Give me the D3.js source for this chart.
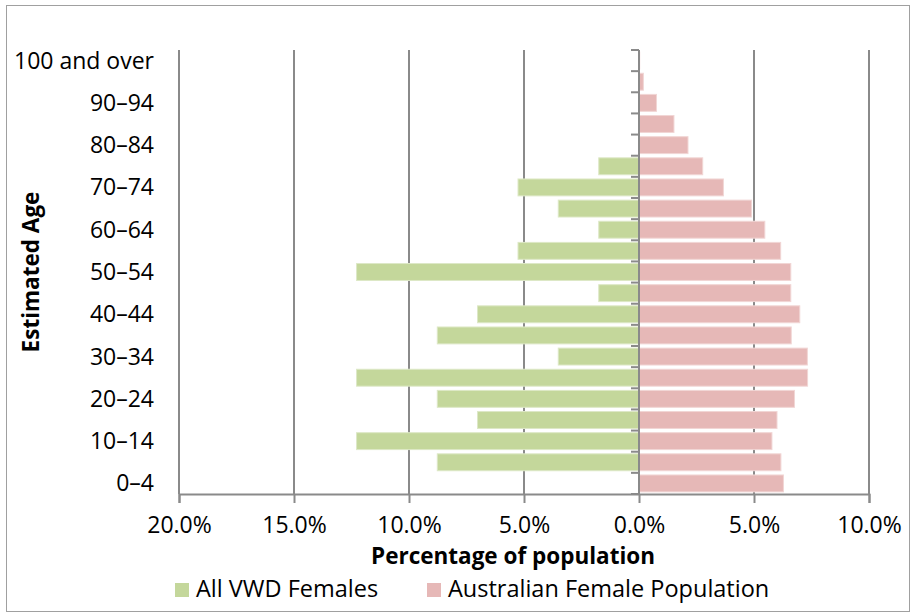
<!DOCTYPE html>
<html>
<head>
  <meta charset="utf-8">
  <script src="https://cdnjs.cloudflare.com/ajax/libs/d3/7.8.5/d3.min.js"></script>
  <style>
    body { margin: 0; padding: 0; background: #fff; }
    text { font-family: "Open Sans", sans-serif; fill: #000; }
  </style>
</head>
<body>
<svg width="915" height="614"></svg>
<script>
  // age groups, bottom to top
  var ageGroups = ["0–4", "5–9", "10–14", "15–19", "20–24", "25–29", "30–34", "35–39",
    "40–44", "45–49", "50–54", "55–59", "60–64", "65–69", "70–74", "75–79",
    "80–84", "85–89", "90–94", "95–99", "100 and over"];

  // percentage of population
  var vwdFemales = [0, 8.77, 12.28, 7.02, 8.77, 12.28, 3.51, 8.77, 7.02, 1.75, 12.28,
    5.26, 1.75, 3.51, 5.26, 1.75, 0, 0, 0, 0, 0];
  var australianFemales = [6.28, 6.17, 5.78, 6.0, 6.76, 7.33, 7.32, 6.62, 6.99, 6.6, 6.6,
    6.16, 5.47, 4.89, 3.67, 2.77, 2.13, 1.52, 0.76, 0.19, 0.03];

  var xTicks = [-20, -15, -10, -5, 0, 5, 10];
  var seriesNames = ["All VWD Females", "Australian Female Population"];
  var colors = ["#c4d79b", "#e6b8b7"];
  var strokes = ["#dde8c6", "#f1d6d5"];

  var svg = d3.select("svg");

  // outer chart border
  svg.append("rect")
    .attr("x", 6.5).attr("y", 5.5)
    .attr("width", 903).attr("height", 606)
    .attr("fill", "none")
    .attr("stroke", "#a0a0a0")
    .attr("stroke-width", 1);

  var plotLeft = 179, plotRight = 869, plotTop = 50, plotBottom = 494;

  var x = d3.scaleLinear().domain([-20, 10]).range([plotLeft, plotRight]);
  var yb = d3.scaleBand().domain(ageGroups.slice().reverse()).range([plotTop, plotBottom]);
  var y = d3.scaleBand().domain(ageGroups.slice().reverse()).range([plotTop, plotBottom])
    .paddingInner(0.2).paddingOuter(0.1);

  // vertical gridlines
  svg.append("g")
    .selectAll("line")
    .data(xTicks.filter(function(d) { return d !== 0; }))
    .enter().append("line")
    .attr("x1", function(d) { return x(d); })
    .attr("x2", function(d) { return x(d); })
    .attr("y1", plotTop).attr("y2", plotBottom)
    .attr("stroke", "#8a8a8a")
    .attr("stroke-width", 2);

  // bars
  var rows = ageGroups.map(function(a, i) {
    return { age: a, vwd: vwdFemales[i], aus: australianFemales[i] };
  });

  svg.append("g").selectAll("rect")
    .data(rows.filter(function(d) { return d.vwd > 0; }))
    .enter().append("rect")
    .attr("x", function(d) { return x(-d.vwd); })
    .attr("y", function(d) { return y(d.age); })
    .attr("width", function(d) { return x(0) - x(-d.vwd); })
    .attr("height", y.bandwidth())
    .attr("fill", colors[0])
    .attr("stroke", strokes[0])
    .attr("stroke-width", 1);

  svg.append("g").selectAll("rect")
    .data(rows)
    .enter().append("rect")
    .attr("x", x(0))
    .attr("y", function(d) { return y(d.age); })
    .attr("width", function(d) { return x(d.aus) - x(0); })
    .attr("height", y.bandwidth())
    .attr("fill", colors[1])
    .attr("stroke", strokes[1])
    .attr("stroke-width", 1);

  // bottom axis
  var xAxis = svg.append("g")
    .attr("transform", "translate(0," + plotBottom + ")")
    .call(d3.axisBottom(x).tickValues(xTicks).tickSize(9).tickPadding(14)
      .tickFormat(function(d) { return Math.abs(d).toFixed(1) + "%"; }));
  xAxis.select(".domain").attr("stroke", "#8a8a8a").attr("stroke-width", 2);
  xAxis.selectAll(".tick line").attr("stroke", "#8a8a8a").attr("stroke-width", 2);
  xAxis.selectAll("text").style("font-size", "23px").style("font-family", "'Open Sans', sans-serif");

  // zero axis with category ticks
  var zeroAxis = svg.append("g");
  zeroAxis.append("line")
    .attr("x1", x(0)).attr("x2", x(0))
    .attr("y1", plotTop).attr("y2", plotBottom)
    .attr("stroke", "#8a8a8a").attr("stroke-width", 2);
  zeroAxis.selectAll(".cat-tick")
    .data(ageGroups.concat(["end"]))
    .enter().append("line")
    .attr("x1", x(0) - 8).attr("x2", x(0))
    .attr("y1", function(d, i) { return i < ageGroups.length ? yb(d) : plotBottom; })
    .attr("y2", function(d, i) { return i < ageGroups.length ? yb(d) : plotBottom; })
    .attr("stroke", "#8a8a8a").attr("stroke-width", 2);

  // y labels (every other group)
  svg.append("g").selectAll("text")
    .data(ageGroups.filter(function(d, i) { return i % 2 === 0; }))
    .enter().append("text")
    .attr("x", 154)
    .attr("y", function(d) { return yb(d) + yb.bandwidth() / 2; })
    .attr("dy", "0.35em")
    .attr("text-anchor", "end")
    .style("font-size", "23px")
    .text(function(d) { return d; });

  // axis titles
  svg.append("text")
    .attr("x", 513).attr("y", 564)
    .attr("text-anchor", "middle")
    .style("font-size", "22.5px").style("font-weight", "bold")
    .text("Percentage of population");

  svg.append("text")
    .attr("transform", "translate(39," + (plotTop + plotBottom) / 2 + ") rotate(-90)")
    .attr("text-anchor", "middle")
    .style("font-size", "22.5px").style("font-weight", "bold")
    .text("Estimated Age");

  // legend
  var legendX = [175, 427];
  var legend = svg.append("g").selectAll("g")
    .data(seriesNames)
    .enter().append("g")
    .attr("transform", function(d, i) { return "translate(" + legendX[i] + ",583)"; });
  legend.append("rect")
    .attr("width", 14).attr("height", 14)
    .attr("fill", function(d, i) { return colors[i]; });
  legend.append("text")
    .attr("x", 21).attr("y", 14)
    .style("font-size", "23.5px")
    .text(function(d) { return d; });
</script>
</body>
</html>
